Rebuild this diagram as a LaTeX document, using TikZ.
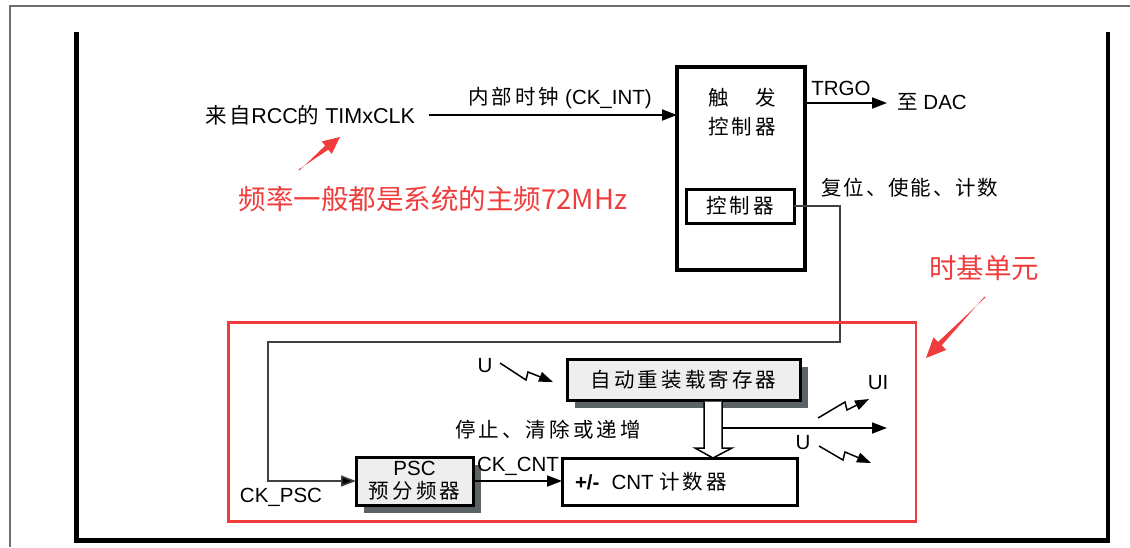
\documentclass[tikz,border=0pt]{standalone}
\usepackage{fontspec}
\setmainfont{Liberation Sans}
\newfontfamily\cjk[LetterSpace=15]{Noto Sans CJK SC}
\newfontfamily\cjkplain{Noto Sans CJK SC}
\usetikzlibrary{arrows.meta,calc,shadows}
\definecolor{annred}{RGB}{240,60,60}
\definecolor{shadecol}{RGB}{92,99,102}
\definecolor{lightfill}{RGB}{238,238,238}
\definecolor{framegray}{RGB}{110,110,110}
\begin{document}
\begin{tikzpicture}[x=1pt,y=-1pt,
  every node/.style={inner sep=0pt, outer sep=0pt, font=\fontsize{20.5}{24}\selectfont},
  blk/.style={draw=black, line width=3pt, fill=white},
  grayblk/.style={blk, fill=lightfill, drop shadow={shadow xshift=8pt, shadow yshift=-8pt, opacity=1, fill=shadecol}},
  conn/.style={draw=black, line width=1.8pt, -{Triangle[length=15pt,width=11pt]}},
  feed/.style={draw=black!75, line width=1.6pt, -{Triangle[length=15pt,width=11pt,fill=black]}},
  bolt/.style={draw=black, line width=1.5pt, -{Triangle[length=14pt,width=10pt]}},
  redtxt/.style={text=annred, font=\cjkplain\fontsize{27.5}{30}\selectfont}
]
\useasboundingbox (0,0) rectangle (1130,547);
\fill[white] (0,0) rectangle (1130,547);

% frames
\draw[framegray, line width=2pt] (1130,6) -- (10,6) -- (10,547);
\draw[black, line width=4.5pt] (76.5,32) -- (76.5,540.5) -- (1108,540.5) -- (1108,32);

% trigger controller
\node[draw=black, line width=4pt, minimum width=128pt, minimum height=203pt] (trig) at (741,168.5) {};
\node[align=center, font=\fontsize{20.5}{29}\selectfont] (trigtxt) at (742,112) {{\cjk 触　发}\\{\cjk 控制器}};
\node[blk, minimum width=108pt, minimum height=34pt] (ctrl) at (740,206) {\cjk 控制器};

% source and internal clock
\node[font=\fontsize{21.5}{24}\selectfont] (src) at (310,115) {{\cjk 来自}RCC{\cjk 的} TIMxCLK};
\node (ckint) at (560,98) {{\cjk 内部时钟} (CK\_INT)};
\draw[conn] ([xshift=14pt]src.east) -- (src.east -| trig.west);

% TRGO
\node (trgo) at (841,88) {TRGO};
\node (dac) at (932,102) {{\cjk 至} DAC};
\coordinate (trgoend) at (887,103);
\draw[conn] (trig.east |- trgoend) -- (trgoend);
\node (rst) at (910,188) {\cjk\addfontfeature{LetterSpace=9}复位、使能、计数};

% time base unit blocks
\node[grayblk, minimum width=233pt, minimum height=41pt] (reload) at (683.5,379.5) {\cjk 自动重装载寄存器};
\node[grayblk, minimum width=117pt, minimum height=48pt, align=center, font=\fontsize{20.5}{23}\selectfont] (psc) at (414.5,481) {PSC\\{\cjk 预分频器}};
\node[blk, minimum width=235pt, minimum height=47pt] (cnt) at (679.5,481.5) {};
\node[anchor=west] (cnttxt) at (575,482) {\textbf{+/-}\hspace{12pt}CNT {\cjk 计数器}};

% labels
\node (u1) at (485,366) {U};
\node (stop) at (548,430) {\cjk 停止、清除或递增};
\node (ckpsc) at (281,497) {CK\_PSC};
\node (ckcnt) at (518,466) {CK\_CNT};
\node (ui) at (878,383) {UI};
\node (u2) at (803,443) {U};

% feedback from controller to prescaler
\coordinate (fb1) at (840,342);
\coordinate (fb2) at (268,342);
\draw[feed] (ctrl.east) -| (fb1) -- (fb2) |- (psc.west);

% prescaler to counter
\draw[conn] (psc.east) -- (psc.east -| cnt.west);

% hollow arrow reload -> counter
\draw[line width=1.5pt, fill=white] (704,401.5) -- (704,448) -- (695,448) -- (713,458) -- (732,448) -- (722,448) -- (722,401.5);
\coordinate (outU) at (887,428);
\draw[conn] (722,428) -- (outU);

% lightning arrows
\coordinate (b1s) at (500,363);
\coordinate (b1e) at (553,382);
\draw[bolt] (b1s) -- (526,380) -- (528,372) -- (b1e);
\coordinate (b2s) at (818,418);
\coordinate (b2e) at (869,399);
\draw[bolt] (b2s) -- (845,402) -- (847,410) -- (b2e);
\coordinate (b3s) at (819,446);
\coordinate (b3e) at (871,463);
\draw[bolt] (b3s) -- (843,460) -- (845,452) -- (b3e);

% annotations
\draw[annred, line width=2.8pt] (228.5,322.5) rectangle (916,521.5);
\node[redtxt] (note1) at (433,199) {频率一般都是系统的主频72MHz};
\node[redtxt] (note2) at (984,268) {时基单元};

\coordinate (a1t) at (299,170);
\coordinate (a1h) at (340,137);
\coordinate (a1b) at ($(a1h)!17pt!(a1t)$);
\fill[annred] ($(a1t)!0.6pt!90:(a1h)$) -- ($(a1b)!2.5pt!-90:(a1h)$) -- ($(a1b)!8pt!-90:(a1h)$) -- (a1h) -- ($(a1b)!8pt!90:(a1h)$) -- ($(a1b)!2.5pt!90:(a1h)$) -- ($(a1t)!0.6pt!-90:(a1h)$) -- cycle;

\coordinate (a2t) at (985,297);
\coordinate (a2h) at (926,358);
\coordinate (a2b) at ($(a2h)!20pt!(a2t)$);
\fill[annred] ($(a2t)!0.6pt!90:(a2h)$) -- ($(a2b)!2.5pt!-90:(a2h)$) -- ($(a2b)!9pt!-90:(a2h)$) -- (a2h) -- ($(a2b)!9pt!90:(a2h)$) -- ($(a2b)!2.5pt!90:(a2h)$) -- ($(a2t)!0.6pt!-90:(a2h)$) -- cycle;
\end{tikzpicture}
\end{document}
